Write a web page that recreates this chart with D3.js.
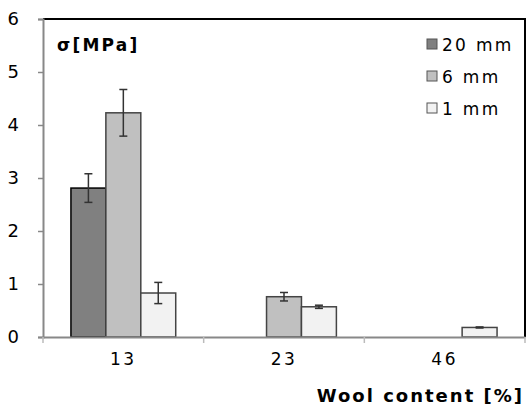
<!DOCTYPE html>
<html>
<head>
<meta charset="utf-8">
<script src="https://cdn.jsdelivr.net/npm/d3@7"></script>
<style>
  body { margin: 0; background: #fff; }
  text { font-family: "DejaVu Sans", Verdana, sans-serif; fill: #000; }
</style>
</head>
<body>
<svg width="528" height="407"></svg>
<script>
let categories = ["13", "23", "46"];
let series = ["20 mm", "6 mm", "1 mm"];
let colors = ["#808080", "#c0c0c0", "#f2f2f2"];
// values per series, per category (null = no bar)
let values20 = [2.81, null, null];
let values6 = [4.23, 0.76, null];
let values1 = [0.83, 0.57, 0.18];
let err20 = [0.27, null, null];
let err6 = [0.44, 0.08, null];
let err1 = [0.2, 0.03, 0.01];
let yTicks = [0, 1, 2, 3, 4, 5, 6];

let allValues = [values20, values6, values1];
let allErrors = [err20, err6, err1];

let plotLeft = 43, plotRight = 525, plotTop = 19, plotBottom = 337;

let svg = d3.select("svg");

let x = d3.scaleBand().domain(categories).range([plotLeft, plotRight]);
let xs = d3.scaleBand().domain(series).range([0, x.bandwidth()]).paddingOuter(0.8).paddingInner(0);
let y = d3.scaleLinear().domain([0, 6]).range([plotBottom, plotTop]);

// frame top + right (black)
svg.append("path")
  .attr("d", `M${plotLeft},${plotTop} H${plotRight} V${plotBottom}`)
  .attr("fill", "none")
  .attr("stroke", "#000")
  .attr("stroke-width", 2);

// bars
let rows = [];
allValues.forEach((vals, si) => {
  vals.forEach((v, ci) => {
    if (v != null) rows.push({ s: series[si], c: categories[ci], v: v, e: allErrors[si][ci], si: si });
  });
});

let bars = svg.append("g");
bars.selectAll("rect")
  .data(rows)
  .enter()
  .append("rect")
  .attr("x", d => x(d.c) + xs(d.s))
  .attr("y", d => y(d.v))
  .attr("width", xs.bandwidth())
  .attr("height", d => y(0) - y(d.v))
  .attr("fill", d => colors[d.si])
  .attr("stroke", d => (d.si == 0 ? "#000" : "#444"))
  .attr("stroke-width", 1.5);

// error bars
let eb = svg.append("g").attr("stroke", "#333").attr("stroke-width", 1.5);
rows.forEach(d => {
  let cx = x(d.c) + xs(d.s) + xs.bandwidth() / 2;
  let y1 = y(d.v + d.e), y2 = y(d.v - d.e);
  eb.append("line").attr("x1", cx).attr("x2", cx).attr("y1", y1).attr("y2", y2);
  eb.append("line").attr("x1", cx - 4).attr("x2", cx + 4).attr("y1", y1).attr("y2", y1);
  eb.append("line").attr("x1", cx - 4).attr("x2", cx + 4).attr("y1", y2).attr("y2", y2);
});

// y axis
let yAxis = svg.append("g")
  .attr("transform", `translate(${plotLeft},0)`)
  .call(d3.axisLeft(y).tickValues(yTicks).tickSize(5).tickPadding(19).tickFormat(d3.format("d")));
yAxis.select(".domain").attr("stroke", "#888").attr("stroke-width", 2);
yAxis.selectAll(".tick line").attr("stroke", "#888").attr("stroke-width", 1.5);
yAxis.selectAll("text").style("font-size", "18px").attr("fill", "#000");

// x axis
let xAxis = svg.append("g")
  .attr("transform", `translate(0,${plotBottom})`)
  .call(d3.axisBottom(x).tickSize(0).tickPadding(16));
xAxis.select(".domain").attr("stroke", "#888").attr("stroke-width", 2);
xAxis.selectAll("text").style("font-size", "17px").style("letter-spacing", "2.5px").attr("fill", "#000");
xAxis.selectAll(".sep")
  .data([plotLeft, ...categories.map(c => x(c) + x.bandwidth())])
  .enter()
  .append("line")
  .attr("x1", d => d).attr("x2", d => d)
  .attr("y1", 0).attr("y2", 6)
  .attr("stroke", "#bbb")
  .attr("stroke-width", 1.5);

// axis titles
svg.append("text")
  .attr("x", 57).attr("y", 51)
  .style("font-size", "17px").style("font-weight", "bold").style("letter-spacing", "2.2px")
  .text("σ[MPa]");

svg.append("text")
  .attr("x", 524).attr("y", 402)
  .attr("text-anchor", "end")
  .style("font-size", "18px").style("font-weight", "bold").style("letter-spacing", "2px")
  .text("Wool content [%]");

// legend
let legend = svg.append("g").attr("transform", "translate(427,39)");
series.forEach((s, i) => {
  let g = legend.append("g").attr("transform", `translate(0,${i * 32})`);
  g.append("rect").attr("width", 10).attr("height", 10)
    .attr("fill", colors[i]).attr("stroke", "#555").attr("stroke-width", 1);
  g.append("text").attr("x", 15).attr("y", 12)
    .style("font-size", "17px").style("letter-spacing", "2.3px")
    .text(s);
});
</script>
</body>
</html>
